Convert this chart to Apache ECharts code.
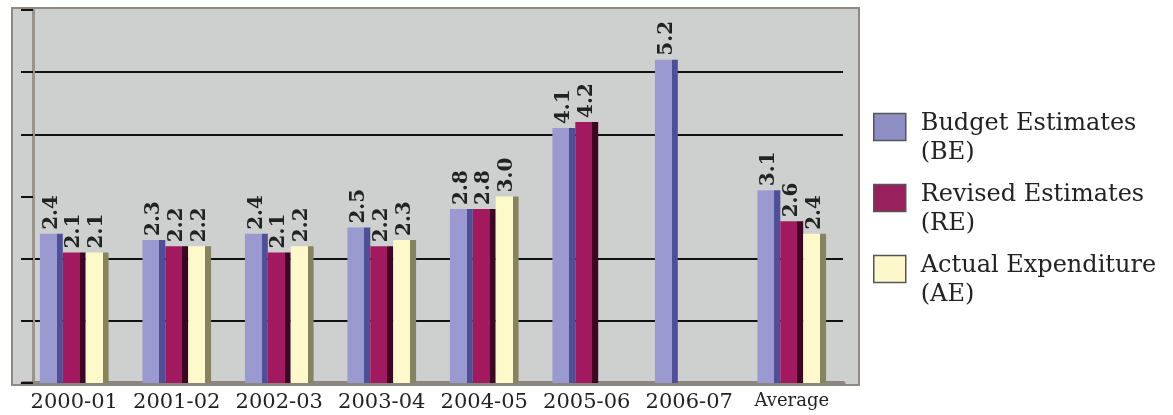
<!DOCTYPE html>
<html>
<head>
<meta charset="utf-8">
<script src="https://cdn.jsdelivr.net/npm/echarts@6/dist/echarts.min.js"></script>
<style>
  html, body { margin: 0; padding: 0; background: #ffffff; }
  #chart { width: 1173px; height: 415px; }
</style>
</head>
<body>
<div id="chart"></div>
<script>
// Year-wise estimates and expenditure
const categories = ['2000-01', '2001-02', '2002-03', '2003-04', '2004-05', '2005-06', '2006-07', 'Average'];
const budgetEstimates = [2.4, 2.3, 2.4, 2.5, 2.8, 4.1, 5.2, 3.1];
const revisedEstimates = [2.1, 2.2, 2.1, 2.2, 2.8, 4.2, null, 2.6];
const actualExpenditure = [2.1, 2.2, 2.2, 2.3, 3.0, null, null, 2.4];
const seriesNames = ['Budget Estimates\n(BE)', 'Revised Estimates\n(RE)', 'Actual Expenditure\n(AE)'];
const legendColors = ['#8f8fc6', '#98205d', '#fdf8cc'];

// front face colour + darker side face, giving the bars a block look
function blockFill(front, side) {
  return {
    type: 'linear', x: 0, y: 0, x2: 1, y2: 0,
    colorStops: [
      { offset: 0, color: front },
      { offset: 0.74, color: front },
      { offset: 0.74, color: side },
      { offset: 1, color: side }
    ]
  };
}

const valueLabel = {
  show: true,
  position: 'top',
  rotate: 90,
  align: 'left',
  verticalAlign: 'middle',
  distance: 4,
  fontFamily: 'DejaVu Serif',
  fontWeight: 'bold',
  fontSize: 20,
  color: '#222',
  formatter: p => p.value == null ? '' : Number(p.value).toFixed(1)
};

function barSeries(name, data, front, side) {
  return {
    name: name,
    type: 'bar',
    xAxisIndex: 1,
    yAxisIndex: 1,
    data: data,
    barGap: '0%',
    barCategoryGap: '33%',
    itemStyle: { color: blockFill(front, side) },
    label: valueLabel,
    emphasis: { disabled: true }
  };
}

const chart = echarts.init(document.getElementById('chart'), null, { renderer: 'canvas' });

chart.setOption({
  animation: false,
  backgroundColor: '#ffffff',
  grid: [
    // back wall
    { left: 12, right: 314, top: 8, bottom: 30, show: true, backgroundColor: '#cdd0cf', borderColor: '#8f8984', borderWidth: 2 },
    // plotting area
    { left: 23, right: 330, top: 10, bottom: 32 }
  ],
  xAxis: [
    { gridIndex: 0, type: 'category', data: categories, show: false },
    {
      gridIndex: 1,
      type: 'category',
      data: categories,
      axisLine: { show: true, lineStyle: { color: '#8d8580', width: 5 } },
      axisTick: { show: false },
      axisLabel: {
        margin: 9,
        fontFamily: 'DejaVu Serif',
        fontSize: 21,
        color: '#222',
        interval: 0,
        formatter: v => v === 'Average' ? '{s|Average}' : v,
        rich: { s: { fontFamily: 'DejaVu Serif', fontSize: 18, color: '#222' } }
      }
    }
  ],
  yAxis: [
    { gridIndex: 0, type: 'value', show: false },
    {
      gridIndex: 1,
      type: 'value',
      min: 0,
      max: 6,
      interval: 1,
      offset: -10,
      axisLine: { show: true, lineStyle: { color: '#9a948f', width: 3 } },
      axisTick: { show: true, length: 12, lineStyle: { color: '#111', width: 2 } },
      axisLabel: { show: false },
      splitLine: {
        show: true,
        lineStyle: {
          width: 2,
          color: ['rgba(0,0,0,0)', '#111', '#111', 'rgba(0,0,0,0)', '#111', '#111', 'rgba(0,0,0,0)']
        }
      }
    }
  ],
  legend: {
    orient: 'vertical',
    left: 868,
    top: 88,
    itemWidth: 32,
    itemHeight: 27,
    itemGap: -1,
    icon: 'rect',
    selectedMode: false,
    data: seriesNames.map((n, i) => ({
      name: n,
      itemStyle: { color: legendColors[i], borderColor: '#555', borderWidth: 1.5 }
    })),
    // a short spacer line on top drops the two text lines to the swatch's top edge
    formatter: n => '{g| }\n' + n.split('\n').map(s => '{t|' + s + '}').join('\n'),
    textStyle: {
      padding: [0, 0, 0, 10],
      rich: {
        g: { fontSize: 10, lineHeight: 23 },
        t: { fontFamily: 'DejaVu Serif', fontSize: 24, lineHeight: 29, color: '#222' }
      }
    }
  },
  series: [
    barSeries(seriesNames[0], budgetEstimates, '#9a99d0', '#4f4f97'),
    barSeries(seriesNames[1], revisedEstimates, '#a3195f', '#3d0622'),
    barSeries(seriesNames[2], actualExpenditure, '#fdf9cb', '#86845f')
  ]
});
</script>
</body>
</html>
